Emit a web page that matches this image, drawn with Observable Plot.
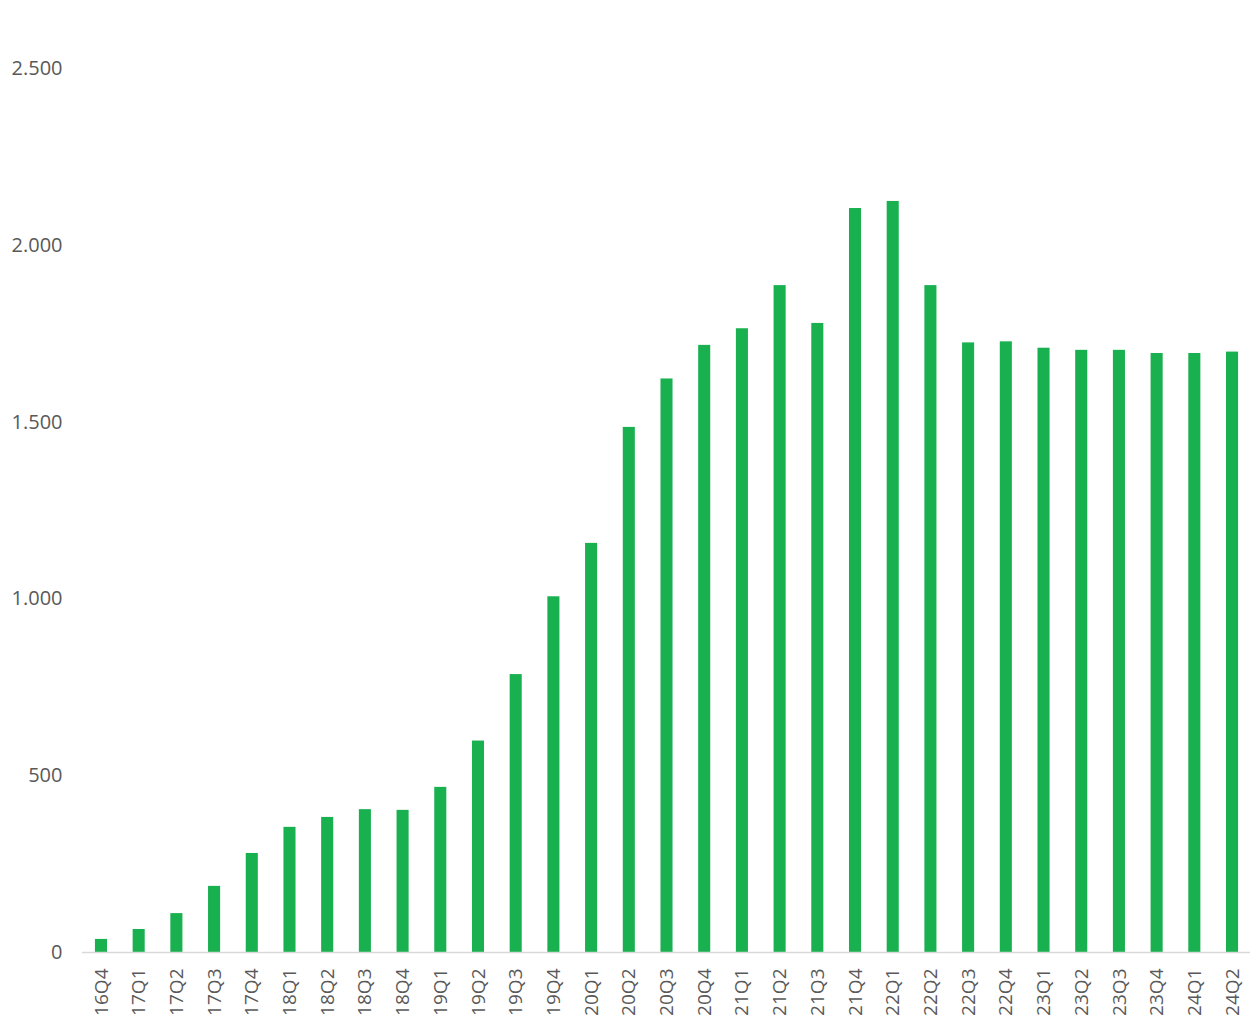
<!DOCTYPE html>
<html>
<head>
<meta charset="utf-8">
<script src="https://cdn.jsdelivr.net/npm/d3@7"></script>
<script src="https://cdn.jsdelivr.net/npm/@observablehq/plot@0.6"></script>
<style>
  html, body { margin: 0; padding: 0; background: #fff; }
  #chart { width: 1260px; height: 1028px; }
</style>
</head>
<body>
<div id="chart"></div>
<script>
const quarters = ["16Q4","17Q1","17Q2","17Q3","17Q4","18Q1","18Q2","18Q3","18Q4","19Q1","19Q2","19Q3","19Q4","20Q1","20Q2","20Q3","20Q4","21Q1","21Q2","21Q3","21Q4","22Q1","22Q2","22Q3","22Q4","23Q1","23Q2","23Q3","23Q4","24Q1","24Q2"];
const values = [37, 65, 110, 187, 280, 354, 382, 404, 402, 467, 598, 786, 1006, 1157, 1485, 1622, 1717, 1764, 1886, 1779, 2104, 2124, 1886, 1724, 1727, 1709, 1703, 1703, 1694, 1694, 1698];
const yTicks = [0, 500, 1000, 1500, 2000, 2500];

const data = quarters.map((q, i) => ({q, v: values[i]}));
const fmt = d3.formatLocale({decimal: ",", thousands: ".", grouping: [3], currency: ["", "€"]}).format(",");

const chart = Plot.plot({
  width: 1260,
  height: 1028,
  marginLeft: 82,
  marginRight: 10,
  marginTop: 68,
  marginBottom: 76,
  style: {fontFamily: "'Open Sans', sans-serif", color: "#595959", background: "#fff"},
  x: {domain: quarters, padding: 0.68, round: false, range: [69.3, 1263.7], label: null},
  y: {domain: [0, 2500], label: null},
  marks: [
    Plot.barY(data, {x: "q", y: "v", fill: "#19b050"}),
    Plot.ruleY([0], {stroke: "#d9d9d9", strokeWidth: 1.5}),
    Plot.axisY({ticks: yTicks, tickFormat: fmt, tickSize: 0, tickPadding: 20, fontSize: 20, fill: "#595959", label: null}),
    Plot.axisX({tickRotate: -90, tickSize: 0, tickPadding: 16, fontSize: 19, fill: "#595959", label: null})
  ]
});
document.getElementById("chart").appendChild(chart);
</script>
</body>
</html>
